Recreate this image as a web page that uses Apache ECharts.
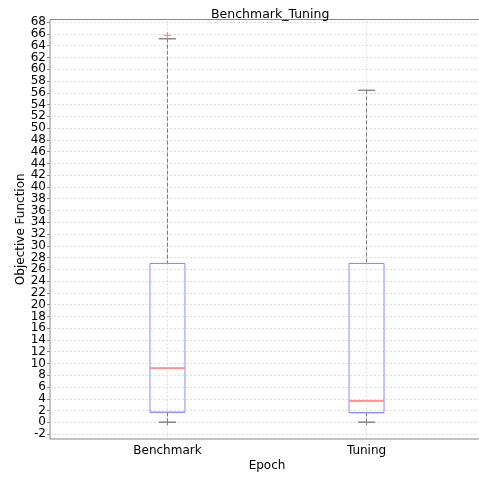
<!DOCTYPE html>
<html>
<head>
<meta charset="utf-8">
<script src="https://cdn.jsdelivr.net/npm/echarts@6/dist/echarts.min.js"></script>
<style>html,body{margin:0;padding:0;background:#fff}#c{width:479px;height:477px}</style>
</head>
<body>
<div id="c"></div>
<script>
const categories = ['Benchmark', 'Tuning'];
const positions = [1, 2];
const mins = [0, 0];
const q1s = [1.7, 1.65];
const medians = [9.2, 3.65];
const q3s = [27.0, 27.0];
const maxs = [65.2, 56.4];
const outliers = [[65.75], []];
const yTicks = [-2, 0, 2, 4, 6, 8, 10, 12, 14, 16, 18, 20, 22, 24, 26, 28, 30, 32, 34,
  36, 38, 40, 42, 44, 46, 48, 50, 52, 54, 56, 58, 60, 62, 64, 66, 68];

const font = 'DejaVu Sans';
const xMin = 0.41, xMax = 2.59;
const yMin = -2.83, yMax = 68.45;
// labels split over two overlaid axes so that none is auto-hidden
const yLabelsA = yTicks.filter((v, i) => i % 2 === 0);
const yLabelsB = yTicks.filter((v, i) => i % 2 === 1);

function hiddenX() {
  return { type: 'value', min: xMin, max: xMax, show: false, gridIndex: 0 };
}
const yLabelStyle = { margin: 4, hideOverlap: false, fontFamily: font, fontSize: 12, color: '#000' };

const whiskerData = [], capData = [], boxData = [], medianData = [], outlierData = [];
positions.forEach((p, i) => {
  whiskerData.push([p, mins[i], q1s[i], q1s[i], q1s[i], q1s[i]]);
  whiskerData.push([p, q3s[i], q3s[i], q3s[i], q3s[i], maxs[i]]);
  capData.push([p, mins[i], mins[i], mins[i], mins[i], mins[i]]);
  capData.push([p, maxs[i], maxs[i], maxs[i], maxs[i], maxs[i]]);
  boxData.push([p, q1s[i], q1s[i], q1s[i], q3s[i], q3s[i]]);
  medianData.push([p, medians[i], medians[i], medians[i], medians[i], medians[i]]);
  outliers[i].forEach(v => outlierData.push([p, v]));
});

const chart = echarts.init(document.getElementById('c'));
chart.setOption({
  animation: false,
  backgroundColor: '#fff',
  textStyle: { fontFamily: font },
  title: {
    text: 'Benchmark_Tuning',
    left: 206, top: 3,
    textStyle: { fontFamily: font, fontSize: 12.5, fontWeight: 'normal', color: '#000' }
  },
  grid: {
    left: 50, right: -5, top: 19.5, bottom: 38,
    outerBoundsMode: 'none', containLabel: false,
    show: true, borderColor: '#888', borderWidth: 1, backgroundColor: 'transparent'
  },
  xAxis: [
    {
      type: 'value', min: xMin, max: xMax, gridIndex: 0,
      name: 'Epoch', nameLocation: 'middle', nameGap: 21, nameMoveOverlap: false,
      nameTextStyle: { fontFamily: font, fontSize: 12, color: '#000' },
      axisLine: { show: false },
      axisTick: { show: true, customValues: positions, length: 3, lineStyle: { color: '#888' } },
      axisLabel: {
        customValues: positions, margin: 6, hideOverlap: false,
        fontFamily: font, fontSize: 12, color: '#000',
        formatter: v => categories[positions.indexOf(Math.round(v))] || ''
      },
      splitLine: { show: true, lineStyle: { color: '#ddd', type: [2, 2], width: 1 } }
    },
    hiddenX(), hiddenX(), hiddenX()
  ],
  yAxis: [
    {
      type: 'value', min: yMin, max: yMax, position: 'left', offset: 0,
      name: 'Objective Function', nameLocation: 'middle', nameGap: 23, nameMoveOverlap: false,
      nameTextStyle: { fontFamily: font, fontSize: 12, color: '#000' },
      axisLine: { show: false },
      axisTick: { show: true, customValues: yTicks, length: 3, lineStyle: { color: '#888' } },
      axisLabel: Object.assign({ customValues: yLabelsA }, yLabelStyle),
      splitLine: { show: true, lineStyle: { color: '#ddd', type: [2, 2], width: 1 } }
    },
    {
      type: 'value', min: yMin, max: yMax, position: 'left', offset: 0,
      axisLine: { show: false },
      axisTick: { show: false },
      axisLabel: Object.assign({ customValues: yLabelsB }, yLabelStyle),
      splitLine: { show: false }
    }
  ],
  series: [
    {
      type: 'boxplot', xAxisIndex: 1, data: whiskerData, boxWidth: [0, 0],
      itemStyle: { color: 'transparent', borderColor: '#777', borderWidth: 1, borderType: [4, 2] },
      emphasis: { disabled: true }
    },
    {
      type: 'boxplot', xAxisIndex: 2, data: capData, boxWidth: [17, 17],
      itemStyle: { color: 'transparent', borderColor: '#888', borderWidth: 1 },
      emphasis: { disabled: true }
    },
    {
      type: 'boxplot', xAxisIndex: 0, data: boxData, boxWidth: [35, 35],
      itemStyle: { color: 'transparent', borderColor: '#8c8cff', borderWidth: 1 },
      emphasis: { disabled: true }
    },
    {
      type: 'boxplot', xAxisIndex: 3, data: medianData, boxWidth: [35, 35],
      itemStyle: { color: 'transparent', borderColor: '#ff9090', borderWidth: 1 },
      emphasis: { disabled: true }
    },
    {
      type: 'scatter', xAxisIndex: 0, data: outlierData, z: 5,
      symbol: 'path://M0,5L10,5M5,0L5,10', symbolSize: 7,
      itemStyle: { color: 'transparent', borderColor: '#ff7070', borderWidth: 1.2 },
      emphasis: { disabled: true }
    }
  ]
});
</script>
</body>
</html>
